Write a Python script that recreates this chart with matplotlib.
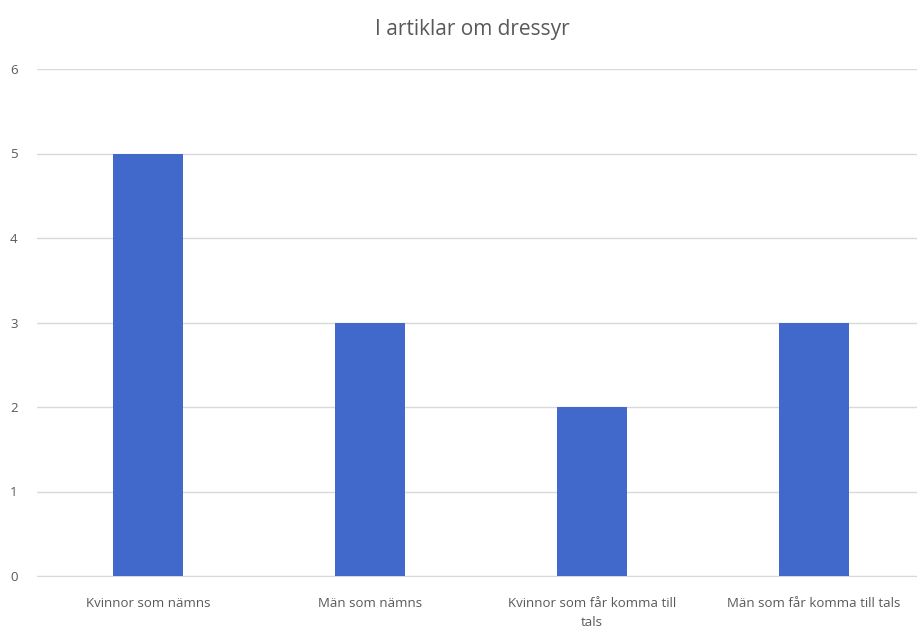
import matplotlib
matplotlib.use("Agg")
import matplotlib.pyplot as plt

categories = ["Kvinnor som nämns", "Män som nämns", "Kvinnor som får komma till\ntals", "Män som får komma till tals"]
values = [5, 3, 2, 3]
yticks = [0, 1, 2, 3, 4, 5, 6]
title = "I artiklar om dressyr"

plt.rcParams['font.family'] = ['Open Sans', 'DejaVu Sans']
fig = plt.figure(figsize=(9.17, 6.28), dpi=100)
ax = fig.add_axes([37/917, 52/628, 888/917, 507/628])
x = list(range(len(categories)))
ax.bar(x, values, width=0.315, color="#4169CB", zorder=3)
ax.set_xlim(-0.5, 3.5)
ax.set_ylim(0, 6)
ax.set_yticks(yticks)
ax.set_yticklabels([str(t) for t in yticks])
ax.set_xticks(x)
ax.set_xticklabels(categories, linespacing=1.6)
ax.grid(axis='y', color="#D9D9D9", linewidth=1, zorder=0)
for s in ['top', 'right', 'left']:
    ax.spines[s].set_visible(False)
ax.spines['bottom'].set_color("#D9D9D9")
ax.tick_params(axis='both', length=0, labelsize=9.5, colors="#595959")
ax.tick_params(axis='y', pad=14)
ax.tick_params(axis='x', pad=15)
fig.text(0.515, 0.953, title, ha='center', va='center', fontsize=15, color="#595959")
fig.savefig("out.png", dpi=100)
